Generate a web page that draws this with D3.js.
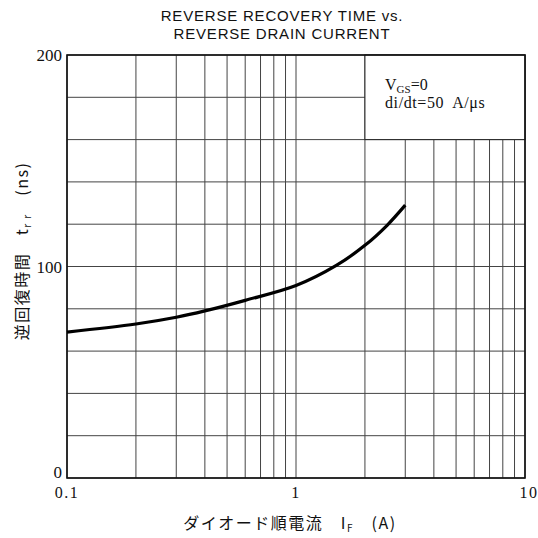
<!DOCTYPE html>
<html><head><meta charset="utf-8">
<script src="https://cdn.jsdelivr.net/npm/d3@7/dist/d3.min.js"></script>
<style>body{margin:0;background:#fff}</style>
</head><body>
<svg id="c" width="538" height="538"></svg>
<script>
const titleLines = ["REVERSE RECOVERY TIME vs.", "REVERSE DRAIN CURRENT"];
const currentA = [0.1, 0.2, 0.3, 0.4, 0.6, 1, 1.5, 2, 2.5, 3];
const trrNs    = [69, 72.8, 76, 79, 84, 91, 100.5, 110, 119.5, 129];
const xTicks = [0.1, 1, 10];
const xTickLabels = ["0.1", "1", "10"];
const yTicks = [0, 100, 200];
const serif = "'Liberation Serif','DejaVu Serif',serif";
const sans = "'Liberation Sans Narrow','Liberation Sans','DejaVu Sans',sans-serif";
const cjk = "'Noto Sans CJK JP','Liberation Serif',serif";

const svg = d3.select("#c");
const m = {l:67, r:525, t:55, b:478};
const x = d3.scaleLog().domain([0.1, 10]).range([m.l, m.r]);
const y = d3.scaleLinear().domain([0, 200]).range([m.b, m.t]);

// grid
const vgrid = [];
[0.1, 1].forEach(d => { for (let k = 1; k <= 9; k++) vgrid.push(d * k); });
vgrid.push(10);
svg.append("g").selectAll("line").data(vgrid).join("line")
  .attr("x1", d => x(d)).attr("x2", d => x(d)).attr("y1", m.t).attr("y2", m.b)
  .attr("stroke", "#444").attr("stroke-width", 1);
svg.append("g").selectAll("line").data(d3.range(0, 201, 20)).join("line")
  .attr("x1", m.l).attr("x2", m.r).attr("y1", d => y(d)).attr("y2", d => y(d))
  .attr("stroke", "#444").attr("stroke-width", 1);

// annotation box
svg.append("rect").attr("x", x(2)).attr("y", y(200)).attr("width", x(10) - x(2)).attr("height", y(160) - y(200))
  .attr("fill", "#fff").attr("stroke", "#222").attr("stroke-width", 1);
const ann = svg.append("text").attr("font-family", serif).attr("font-size", 16).attr("fill", "#111");
const a1 = ann.append("tspan").attr("x", 385).attr("y", 90);
a1.append("tspan").text("V");
a1.append("tspan").attr("font-size", 11).attr("dy", 3).text("GS");
a1.append("tspan").attr("dy", -3).text("=0");
const a2 = ann.append("tspan").attr("x", 385).attr("y", 108).attr("letter-spacing", 0.6);
a2.append("tspan").text("di/dt=50");
a2.append("tspan").attr("dx", 8).text("A/μs");

// frame
svg.append("rect").attr("x", m.l).attr("y", m.t).attr("width", m.r - m.l).attr("height", m.b - m.t)
  .attr("fill", "none").attr("stroke", "#111").attr("stroke-width", 1.6);

// curve
const line = d3.line().x((d, i) => x(currentA[i])).y(d => y(d)).curve(d3.curveCatmullRom.alpha(0.5));
svg.append("path").attr("d", line(trrNs)).attr("fill", "none").attr("stroke", "#000").attr("stroke-width", 3.2);

// ticks
svg.append("g").selectAll("text").data(yTicks).join("text")
  .attr("x", 62).attr("y", d => d === 0 ? y(d) : y(d) + 6).attr("text-anchor", "end")
  .attr("font-family", serif).attr("font-size", 17).attr("fill", "#111").text(d => d);
svg.append("g").selectAll("text").data(xTicks).join("text")
  .attr("x", (d, i) => x(d) + (i === 2 ? 4 : 0)).attr("y", 498).attr("text-anchor", "middle")
  .attr("letter-spacing", 1.5)
  .attr("font-family", serif).attr("font-size", 16).attr("fill", "#111").text((d, i) => xTickLabels[i]);

// title
svg.append("g").selectAll("text").data(titleLines).join("text")
  .attr("x", 282).attr("y", (d, i) => 21 + i * 18).attr("text-anchor", "middle")
  .attr("letter-spacing", 0.8)
  .attr("font-family", sans).attr("font-size", 15).attr("fill", "#111").text(d => d);

// x label
const xl = svg.append("text").attr("x", 290).attr("y", 529).attr("text-anchor", "middle")
  .attr("font-family", cjk).attr("font-size", 16).attr("letter-spacing", 1.5).attr("fill", "#111");
xl.append("tspan").text("ダイオード順電流　I");
xl.append("tspan").attr("font-size", 10).attr("dy", 3).text("F");
xl.append("tspan").attr("dy", -3).text("　(A)");

// y label
const yl = svg.append("text").attr("transform", "translate(28,251) rotate(-90)").attr("text-anchor", "middle")
  .attr("font-family", cjk).attr("font-size", 16).attr("letter-spacing", 1.5).attr("fill", "#111");
yl.append("tspan").text("逆回復時間　t");
yl.append("tspan").attr("font-size", 10).attr("dy", 3).text("r r");
yl.append("tspan").attr("dy", -3).text("　(ns)");
</script>
</body></html>
